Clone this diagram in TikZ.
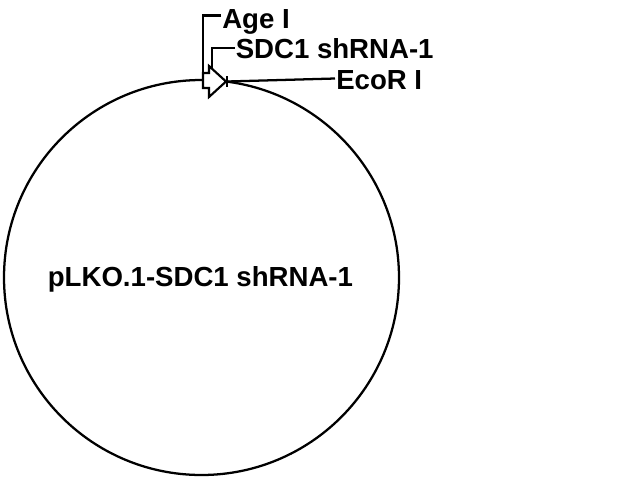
\documentclass[tikz,border=0pt]{standalone}
\usepackage{fontspec}
\setmainfont{Liberation Sans}
\begin{document}
\begin{tikzpicture}[x=0.75pt,y=-0.75pt,
  lbl/.style={anchor=base west,inner sep=0pt,font=\fontsize{20.7pt}{24pt}\selectfont\bfseries},
  ln/.style={line width=1.7pt,black},
  feat/.style={line width=1.6pt,black,fill=white,line join=miter}]
\useasboundingbox[fill=white] (0,0) rectangle (640,480);
% plasmid backbone
\coordinate (c) at (201.5,277.5);
\draw[ln] (c) circle[radius=148.125pt];
% feature arrow (shRNA)
\draw[feat] (203,73) -- (209,73) -- (209,66) -- (226,81.5) -- (209,97) -- (209,88) -- (203,88) -- cycle;
% EcoR I site tick
\draw[ln] (227,76) -- (227,87);
% labels
\node[lbl] (age) at (222,28.3) {Age I};
\node[lbl] (sdc) at (235.5,58.3) {SDC1 shRNA-1};
\node[lbl] (eco) at (336,89.3) {EcoR I};
\node[lbl] (name) at (47.6,286.7) {pLKO.1-SDC1 shRNA-1};
% leaders
\coordinate (ageS) at (203,88);
\coordinate (sdcS) at (212,68.6);
\coordinate (ecoS) at (227,81.5);
\draw[ln] (age.west |- 0,15.5) ++(-1,0) -- (203,15.5) -- (ageS);
\draw[ln] (sdc.west |- 0,48.3) ++(-1,0) -- (212,48.3) -- (sdcS);
\draw[ln] (ecoS) -- (335,78.5);
\end{tikzpicture}
\end{document}
